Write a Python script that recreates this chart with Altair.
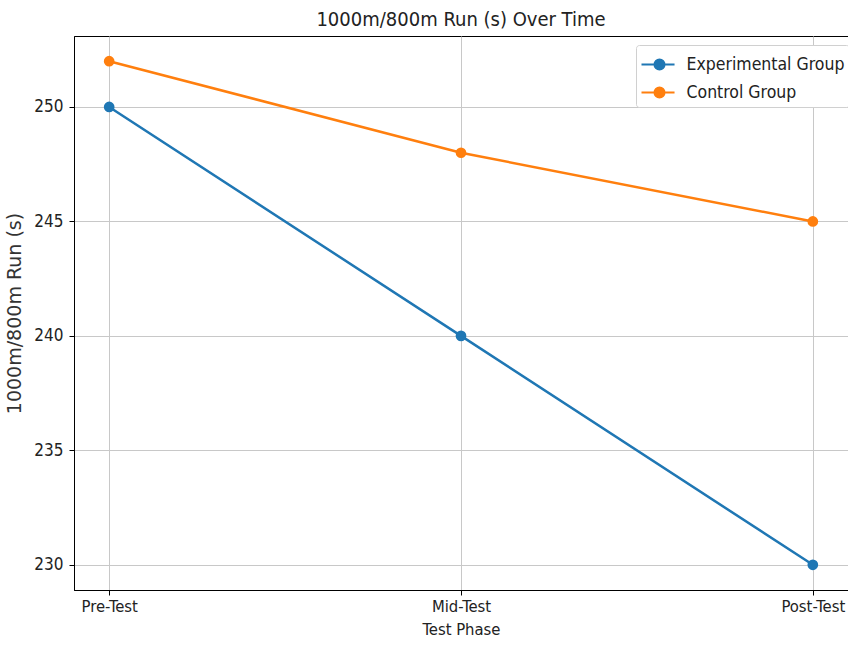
import altair as alt
import pandas as pd

phases = ["Pre-Test", "Mid-Test", "Post-Test"]
groups = ["Experimental Group", "Control Group"]
experimental = [250, 240, 230]
control = [252, 248, 245]
colors = ["#1f77b4", "#ff7f0e"]

rows = []
for i, p in enumerate(phases):
    rows.append({"idx": i, "phase": p, "group": groups[0], "value": experimental[i]})
for i, p in enumerate(phases):
    rows.append({"idx": i, "phase": p, "group": groups[1], "value": control[i]})
df = pd.DataFrame(rows)

cond = "DejaVu Sans Condensed"
label_expr = "datum.value == 0 ? 'Pre-Test' : datum.value == 1 ? 'Mid-Test' : datum.value == 2 ? 'Post-Test' : ''"


def ring(cx, r):
    return f"M{cx - r:.3f},0A{r:.3f},{r:.3f},0,1,1,{cx + r:.3f},0A{r:.3f},{r:.3f},0,1,1,{cx - r:.3f},0"


legend_path = "M-1,0L1.36,0" + "".join(ring(0.286, r) for r in [0.36, 0.27, 0.18, 0.09])

x = alt.X("idx:Q", scale=alt.Scale(domain=[-0.1, 2.1], nice=False, zero=False),
          axis=alt.Axis(values=[0, 1, 2], labelExpr=label_expr, title="Test Phase",
                        grid=True, gridColor="#c8c8c8", gridWidth=1,
                        domainColor="black", tickColor="black", tickSize=5,
                        labelFont=cond, labelFontSize=16.5, labelColor="#222",
                        labelPadding=3, titleFont=cond, titleFontSize=16.5,
                        titleFontWeight="normal", titleColor="#222", titlePadding=7))
y = alt.Y("value:Q", scale=alt.Scale(domain=[228.9, 253.1], nice=False, zero=False),
          axis=alt.Axis(values=[230, 235, 240, 245, 250], title="1000m/800m Run (s)",
                        grid=True, gridColor="#c8c8c8", gridWidth=1,
                        domainColor="black", tickColor="black", tickSize=5,
                        labelFont=cond, labelFontSize=17, labelColor="#222",
                        labelPadding=6, titleFont="DejaVu Sans", titleFontSize=19,
                        titleFontWeight="normal", titleColor="#333", titlePadding=9))
color = alt.Color("group:N", scale=alt.Scale(domain=groups, range=colors),
                  legend=alt.Legend(title=None, orient="none", legendX=562, legendY=9,
                                    symbolType=legend_path, symbolSize=784,
                                    symbolStrokeWidth=2, labelFont=cond, labelFontSize=17.5,
                                    labelColor="#222", rowPadding=3, padding=4.5,
                                    fillColor="white", strokeColor="#d0d0d0",
                                    cornerRadius=3, labelOffset=16))

base = alt.Chart(df)
lines = base.mark_line(strokeWidth=2.5).encode(x=x, y=y, color=color, detail="group:N")
points = base.mark_circle(size=115, opacity=1).encode(x=x, y=y,
    color=alt.Color("group:N", scale=alt.Scale(domain=groups, range=colors), legend=None))

chart = (lines + points).properties(
    width=774, height=554,
    title=alt.Title("1000m/800m Run (s) Over Time", font=cond, fontSize=20,
                    fontWeight="normal", color="#222", offset=6),
    autosize=alt.AutoSizeParams(type="none"),
    padding={"left": 74, "top": 36, "right": 0, "bottom": 60},
).configure(background="white").configure_view(stroke="black", strokeWidth=1)

chart.save("out.html", embed_options={"renderer": "svg", "actions": False})
